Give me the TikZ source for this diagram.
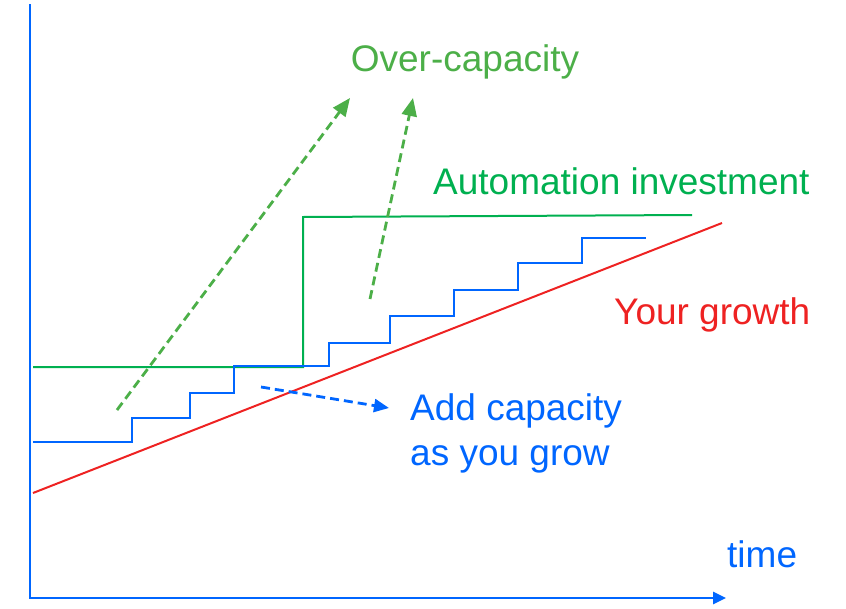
\documentclass[tikz,border=0pt]{standalone}
\usepackage{fontspec}
\setmainfont{Liberation Sans}
\usepackage{xcolor}
\usetikzlibrary{arrows.meta}
\definecolor{axisblue}{RGB}{0,102,255}
\definecolor{linegreen}{RGB}{0,176,80}
\definecolor{textgreen}{RGB}{76,175,72}
\definecolor{growred}{RGB}{238,34,34}

\begin{document}
\begin{tikzpicture}[x=1pt, y=-1pt,
    every node/.style={inner sep=0pt, font=\fontsize{37}{45}\selectfont},
    dasharrow/.style={dashed, dash pattern=on 9pt off 5pt, line width=2.8pt, -{Triangle[length=18pt, width=15pt]}}]
          \useasboundingbox (0,0) rectangle (846,608);

          % Axes
          \coordinate (top) at (30, 4);
          \coordinate (origin) at (30, 598);
          \coordinate (tend) at (726, 598);
          \draw[axisblue, line width=2.6pt, -{Triangle[length=13pt, width=12pt]}] (top) -- (origin) -- (tend);
          \node (time)[anchor=west, text=axisblue] at (727, 554) {time};

          % Your growth
          \coordinate (g0) at (33, 493);
          \coordinate (g1) at (722, 223);
          \draw[growred, line width=2pt] (g0) -- (g1);
          \node (growth)[anchor=west, text=growred] at (614, 315) {Your growth};

          % Automation investment
          \coordinate (a0) at (33, 367);
          \coordinate (a1) at (303, 367);
          \coordinate (a2) at (303, 217);
          \coordinate (a3) at (692, 215);
          \draw[linegreen, line width=2pt] (a0) -- (a1) -- (a2) -- (a3);
          \node (auto)[anchor=west, text=linegreen] at (433, 181) {Automation investment};

          % Add capacity as you grow
          \draw[axisblue, line width=2.3pt] (33,442)
            -| (132,418) -| (190,393) -| (234,366) -| (329,343) -| (390,316)
            -| (454,290) -| (518,263) -| (582,238) -- (646,238);
          \node (add)[anchor=north west, text=axisblue, align=left] at (410, 393) {Add capacity\\as you grow};

          % Over-capacity
          \node (over)[text=textgreen] at (465, 62) {Over-capacity};
          \coordinate (o1s) at (117, 410);
          \coordinate (o1e) at (350, 98);
          \coordinate (o2s) at (370, 299);
          \coordinate (o2e) at (413, 98);
          \draw[dasharrow, textgreen] (o1s) -- (o1e);
          \draw[dasharrow, textgreen] (o2s) -- (o2e);

          % arrow to label
          \coordinate (b1s) at (261, 387);
          \coordinate (b1e) at (389, 408);
          \draw[dasharrow, axisblue, -{Triangle[length=15pt, width=13pt]}] (b1s) -- (b1e);
      \end{tikzpicture}
\end{document}
